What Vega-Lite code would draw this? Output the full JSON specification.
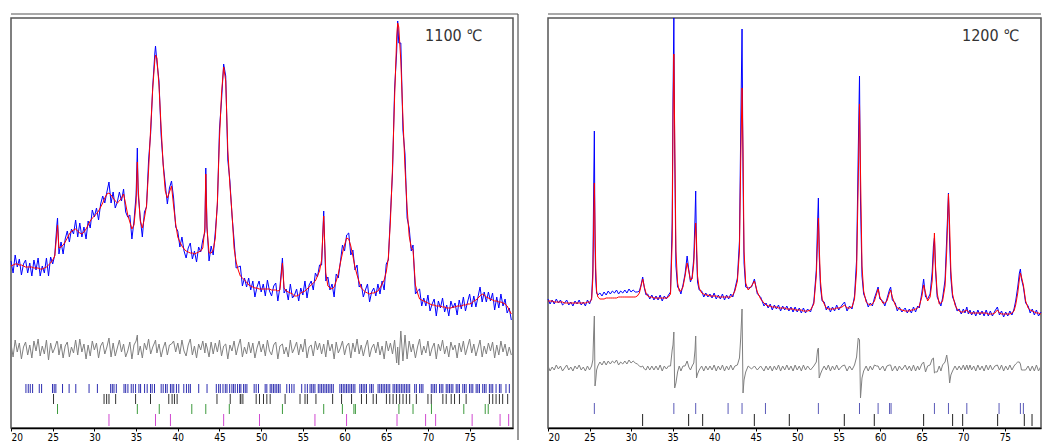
{
"$schema": "https://vega.github.io/schema/vega-lite/v6.json",
"background": "white",
"padding": {"left": 8, "top": 12, "right": 0, "bottom": 0},
"spacing": 35,
"bounds": "flush",
"config": {
  "view": {"stroke": "#555555", "strokeWidth": 1.5},
  "axis": {"grid": false, "title": null, "tickSize": 3, "tickColor": "#000000", "domainColor": "#000000", "domainWidth": 1.5, "labelFont": "DejaVu Sans Condensed, Liberation Sans Narrow, sans-serif", "labelFontSize": 10, "labelColor": "#000000", "labelPadding": 1}
},
"datasets": {
  "left": [
{"x":20,"calc":162,"obs":167,"diff":84},{"x":20.25,"calc":163,"obs":155,"diff":71},{"x":20.5,"calc":164,"obs":173,"diff":88},{"x":20.75,"calc":164,"obs":161,"diff":76},{"x":21,"calc":163,"obs":169,"diff":85},{"x":21.25,"calc":163,"obs":153,"diff":69},{"x":21.5,"calc":162,"obs":164,"diff":81},{"x":21.75,"calc":161,"obs":168,"diff":86},{"x":22,"calc":161,"obs":155,"diff":73},{"x":22.25,"calc":161,"obs":165,"diff":83},{"x":22.5,"calc":161,"obs":152,"diff":70},{"x":22.75,"calc":160,"obs":168,"diff":87},{"x":23,"calc":160,"obs":158,"diff":77},{"x":23.25,"calc":160,"obs":170,"diff":89},{"x":23.5,"calc":159,"obs":152,"diff":72},{"x":23.75,"calc":159,"obs":162,"diff":82},{"x":24,"calc":160,"obs":155,"diff":74},{"x":24.25,"calc":161,"obs":170,"diff":88},{"x":24.5,"calc":163,"obs":152,"diff":68},{"x":24.75,"calc":165,"obs":171,"diff":85},{"x":25,"calc":168,"obs":164,"diff":75},{"x":25.25,"calc":172,"obs":173,"diff":80},{"x":25.5,"calc":195,"obs":203,"diff":87},{"x":25.58,"calc":203,"obs":210,"diff":86},{"x":25.75,"calc":180,"obs":174,"diff":73},{"x":26,"calc":181,"obs":186,"diff":84},{"x":26.25,"calc":183,"obs":174,"diff":70},{"x":26.5,"calc":186,"obs":189,"diff":82},{"x":26.75,"calc":190,"obs":197,"diff":86},{"x":27,"calc":194,"obs":186,"diff":71},{"x":27.25,"calc":197,"obs":199,"diff":81},{"x":27.5,"calc":198,"obs":194,"diff":75},{"x":27.75,"calc":199,"obs":208,"diff":88},{"x":28,"calc":197,"obs":191,"diff":73},{"x":28.25,"calc":195,"obs":205,"diff":89},{"x":28.5,"calc":194,"obs":191,"diff":76},{"x":28.75,"calc":196,"obs":201,"diff":84},{"x":29,"calc":199,"obs":189,"diff":69},{"x":29.25,"calc":203,"obs":207,"diff":83},{"x":29.5,"calc":207,"obs":200,"diff":72},{"x":29.75,"calc":210,"obs":218,"diff":87},{"x":30,"calc":212,"obs":211,"diff":78},{"x":30.25,"calc":214,"obs":220,"diff":85},{"x":30.5,"calc":217,"obs":208,"diff":70},{"x":30.75,"calc":221,"obs":224,"diff":82},{"x":31,"calc":225,"obs":232,"diff":86},{"x":31.25,"calc":230,"obs":225,"diff":74},{"x":31.5,"calc":234,"obs":236,"diff":81},{"x":31.75,"calc":235,"obs":246,"diff":90},{"x":32,"calc":233,"obs":225,"diff":71},{"x":32.25,"calc":230,"obs":236,"diff":85},{"x":32.5,"calc":227,"obs":220,"diff":72},{"x":32.75,"calc":225,"obs":226,"diff":80},{"x":33,"calc":227,"obs":236,"diff":88},{"x":33.25,"calc":230,"obs":227,"diff":76},{"x":33.5,"calc":234,"obs":239,"diff":84},{"x":33.75,"calc":224,"obs":216,"diff":71},{"x":34,"calc":213,"obs":211,"diff":77},{"x":34.25,"calc":206,"obs":213,"diff":86},{"x":34.5,"calc":199,"obs":189,"diff":69},{"x":34.75,"calc":203,"obs":207,"diff":83},{"x":35,"calc":225,"obs":233,"diff":87},{"x":35.15,"calc":266,"obs":280,"diff":93},{"x":35.25,"calc":240,"obs":234,"diff":73},{"x":35.5,"calc":207,"obs":210,"diff":82},{"x":35.75,"calc":200,"obs":191,"diff":70},{"x":36,"calc":210,"obs":216,"diff":85},{"x":36.25,"calc":222,"obs":221,"diff":78},{"x":36.5,"calc":258,"obs":268,"diff":89},{"x":36.75,"calc":300,"obs":295,"diff":74},{"x":37,"calc":340,"obs":342,"diff":81},{"x":37.25,"calc":368,"obs":375,"diff":86},{"x":37.33,"calc":373,"obs":382,"diff":88},{"x":37.5,"calc":370,"obs":366,"diff":75},{"x":37.75,"calc":342,"obs":347,"diff":84},{"x":38,"calc":301,"obs":293,"diff":71},{"x":38.25,"calc":263,"obs":264,"diff":80},{"x":38.5,"calc":237,"obs":244,"diff":86},{"x":38.75,"calc":230,"obs":224,"diff":73},{"x":39,"calc":236,"obs":240,"diff":83},{"x":39.25,"calc":242,"obs":247,"diff":84},{"x":39.5,"calc":222,"obs":230,"diff":87},{"x":39.75,"calc":204,"obs":201,"diff":76},{"x":40,"calc":191,"obs":197,"diff":85},{"x":40.25,"calc":186,"obs":181,"diff":74},{"x":40.5,"calc":182,"obs":191,"diff":88},{"x":40.75,"calc":179,"obs":177,"diff":77},{"x":41,"calc":177,"obs":170,"diff":72},{"x":41.25,"calc":176,"obs":180,"diff":83},{"x":41.5,"calc":175,"obs":185,"diff":89},{"x":41.75,"calc":175,"obs":169,"diff":73},{"x":42,"calc":174,"obs":177,"diff":82},{"x":42.25,"calc":175,"obs":166,"diff":70},{"x":42.5,"calc":176,"obs":181,"diff":84},{"x":42.75,"calc":177,"obs":176,"diff":78},{"x":43,"calc":180,"obs":188,"diff":87},{"x":43.25,"calc":200,"obs":196,"diff":75},{"x":43.36,"calc":254,"obs":260,"diff":85},{"x":43.5,"calc":200,"obs":202,"diff":81},{"x":43.75,"calc":175,"obs":167,"diff":71},{"x":44,"calc":175,"obs":182,"diff":86},{"x":44.25,"calc":178,"obs":173,"diff":74},{"x":44.5,"calc":190,"obs":196,"diff":85},{"x":44.75,"calc":226,"obs":223,"diff":76},{"x":45,"calc":290,"obs":299,"diff":88},{"x":45.25,"calc":335,"obs":328,"diff":72},{"x":45.5,"calc":361,"obs":364,"diff":82},{"x":45.75,"calc":347,"obs":352,"diff":84},{"x":46,"calc":278,"obs":268,"diff":69},{"x":46.25,"calc":243,"obs":247,"diff":83},{"x":46.5,"calc":215,"obs":213,"diff":77},{"x":46.75,"calc":180,"obs":188,"diff":87},{"x":47,"calc":166,"obs":160,"diff":73},{"x":47.25,"calc":158,"obs":161,"diff":82},{"x":47.5,"calc":152,"obs":162,"diff":89},{"x":47.75,"calc":150,"obs":142,"diff":71},{"x":48,"calc":148,"obs":150,"diff":81},{"x":48.25,"calc":146,"obs":141,"diff":74},{"x":48.5,"calc":143,"obs":150,"diff":86},{"x":48.75,"calc":142,"obs":138,"diff":75},{"x":49,"calc":141,"obs":147,"diff":85},{"x":49.25,"calc":140,"obs":131,"diff":70},{"x":49.5,"calc":140,"obs":141,"diff":80},{"x":49.75,"calc":139,"obs":147,"diff":87},{"x":50,"calc":139,"obs":136,"diff":76},{"x":50.25,"calc":139,"obs":144,"diff":84},{"x":50.5,"calc":139,"obs":132,"diff":72},{"x":50.75,"calc":139,"obs":148,"diff":88},{"x":51,"calc":139,"obs":137,"diff":77},{"x":51.25,"calc":138,"obs":132,"diff":73},{"x":51.5,"calc":138,"obs":142,"diff":83},{"x":51.75,"calc":138,"obs":145,"diff":86},{"x":52,"calc":137,"obs":127,"diff":69},{"x":52.25,"calc":138,"obs":141,"diff":82},{"x":52.55,"calc":165,"obs":170,"diff":84},{"x":52.75,"calc":140,"obs":135,"diff":74},{"x":53,"calc":137,"obs":139,"diff":81},{"x":53.25,"calc":136,"obs":128,"diff":71},{"x":53.5,"calc":135,"obs":144,"diff":88},{"x":53.75,"calc":134,"obs":130,"diff":75},{"x":54,"calc":132,"obs":133,"diff":80},{"x":54.25,"calc":132,"obs":139,"diff":86},{"x":54.5,"calc":133,"obs":127,"diff":73},{"x":54.75,"calc":135,"obs":140,"diff":84},{"x":55,"calc":136,"obs":133,"diff":76},{"x":55.25,"calc":137,"obs":147,"diff":89},{"x":55.5,"calc":139,"obs":130,"diff":70},{"x":55.75,"calc":141,"obs":143,"diff":81},{"x":56,"calc":143,"obs":147,"diff":83},{"x":56.25,"calc":145,"obs":138,"diff":72},{"x":56.5,"calc":147,"obs":155,"diff":87},{"x":56.75,"calc":152,"obs":151,"diff":78},{"x":57,"calc":157,"obs":163,"diff":85},{"x":57.25,"calc":168,"obs":163,"diff":74},{"x":57.5,"calc":212,"obs":217,"diff":84},{"x":57.75,"calc":155,"obs":147,"diff":71},{"x":58,"calc":142,"obs":151,"diff":88},{"x":58.25,"calc":140,"obs":138,"diff":77},{"x":58.5,"calc":139,"obs":144,"diff":84},{"x":58.75,"calc":141,"obs":131,"diff":69},{"x":59,"calc":147,"obs":154,"diff":86},{"x":59.25,"calc":154,"obs":150,"diff":75},{"x":59.5,"calc":165,"obs":166,"diff":80},{"x":59.75,"calc":175,"obs":183,"diff":87},{"x":60,"calc":183,"obs":177,"diff":73},{"x":60.25,"calc":190,"obs":193,"diff":82},{"x":60.5,"calc":189,"obs":195,"diff":85},{"x":60.75,"calc":182,"obs":173,"diff":70},{"x":61,"calc":172,"obs":178,"diff":85},{"x":61.25,"calc":161,"obs":158,"diff":76},{"x":61.5,"calc":153,"obs":163,"diff":89},{"x":61.75,"calc":146,"obs":141,"diff":74},{"x":62,"calc":140,"obs":144,"diff":83},{"x":62.25,"calc":138,"obs":131,"diff":72},{"x":62.5,"calc":136,"obs":138,"diff":81},{"x":62.75,"calc":135,"obs":144,"diff":88},{"x":63,"calc":134,"obs":126,"diff":71},{"x":63.25,"calc":135,"obs":136,"diff":80},{"x":63.5,"calc":135,"obs":140,"diff":84},{"x":63.75,"calc":136,"obs":132,"diff":75},{"x":64,"calc":137,"obs":144,"diff":86},{"x":64.25,"calc":140,"obs":134,"diff":73},{"x":64.5,"calc":144,"obs":147,"diff":82},{"x":64.75,"calc":148,"obs":138,"diff":69},{"x":65,"calc":156,"obs":164,"diff":87},{"x":65.25,"calc":170,"obs":168,"diff":77},{"x":65.5,"calc":207,"obs":213,"diff":85},{"x":65.75,"calc":260,"obs":255,"diff":74},{"x":66,"calc":330,"obs":339,"diff":88},{"x":66.25,"calc":390,"obs":376,"diff":65},{"x":66.37,"calc":405,"obs":407,"diff":81},{"x":66.5,"calc":401,"obs":385,"diff":63},{"x":66.75,"calc":367,"obs":385,"diff":97},{"x":67,"calc":310,"obs":298,"diff":67},{"x":67.25,"calc":260,"obs":274,"diff":93},{"x":67.5,"calc":220,"obs":210,"diff":69},{"x":67.75,"calc":192,"obs":200,"diff":87},{"x":68,"calc":180,"obs":177,"diff":76},{"x":68.21,"calc":178,"obs":183,"diff":84},{"x":68.5,"calc":143,"obs":134,"diff":70},{"x":68.75,"calc":135,"obs":137,"diff":81},{"x":69,"calc":129,"obs":139,"diff":89},{"x":69.25,"calc":128,"obs":122,"diff":73},{"x":69.5,"calc":127,"obs":130,"diff":82},{"x":69.75,"calc":126,"obs":122,"diff":75},{"x":70,"calc":125,"obs":133,"diff":87},{"x":70.25,"calc":124,"obs":117,"diff":72},{"x":70.5,"calc":123,"obs":124,"diff":80},{"x":70.75,"calc":123,"obs":129,"diff":85},{"x":71,"calc":122,"obs":112,"diff":69},{"x":71.25,"calc":122,"obs":127,"diff":84},{"x":71.5,"calc":122,"obs":120,"diff":77},{"x":71.75,"calc":121,"obs":130,"diff":88},{"x":72,"calc":121,"obs":116,"diff":74},{"x":72.25,"calc":120,"obs":123,"diff":82},{"x":72.5,"calc":120,"obs":112,"diff":71},{"x":72.75,"calc":120,"obs":127,"diff":86},{"x":73,"calc":121,"obs":120,"diff":78},{"x":73.25,"calc":121,"obs":125,"diff":83},{"x":73.5,"calc":122,"obs":113,"diff":70},{"x":73.75,"calc":122,"obs":128,"diff":85},{"x":74,"calc":122,"obs":119,"diff":76},{"x":74.25,"calc":123,"obs":131,"diff":87},{"x":74.5,"calc":123,"obs":117,"diff":73},{"x":74.75,"calc":124,"obs":126,"diff":81},{"x":75,"calc":124,"obs":134,"diff":89},{"x":75.25,"calc":125,"obs":121,"diff":75},{"x":75.5,"calc":127,"obs":132,"diff":84},{"x":75.75,"calc":128,"obs":121,"diff":72},{"x":76,"calc":130,"obs":131,"diff":80},{"x":76.25,"calc":132,"obs":141,"diff":88},{"x":76.5,"calc":134,"obs":126,"diff":71},{"x":76.75,"calc":133,"obs":136,"diff":82},{"x":77,"calc":131,"obs":126,"diff":74},{"x":77.25,"calc":130,"obs":136,"diff":85},{"x":77.5,"calc":129,"obs":127,"diff":77},{"x":77.75,"calc":128,"obs":135,"diff":86},{"x":78,"calc":127,"obs":118,"diff":70},{"x":78.25,"calc":127,"obs":131,"diff":83},{"x":78.5,"calc":126,"obs":120,"diff":73},{"x":78.75,"calc":126,"obs":134,"diff":87},{"x":79,"calc":125,"obs":122,"diff":76},{"x":79.25,"calc":124,"obs":129,"diff":84},{"x":79.5,"calc":122,"obs":115,"diff":72},{"x":79.75,"calc":118,"obs":120,"diff":81},{"x":80,"calc":114,"obs":108,"diff":73}
  ],
  "right": [
{"x":20,"calc":127,"obs":129,"diff":62},{"x":20.25,"calc":127,"obs":124,"diff":57},{"x":20.5,"calc":127,"obs":128,"diff":61},{"x":20.75,"calc":126,"obs":124,"diff":58},{"x":21,"calc":126,"obs":129,"diff":63},{"x":21.25,"calc":126,"obs":125,"diff":59},{"x":21.5,"calc":126,"obs":128,"diff":62},{"x":21.75,"calc":126,"obs":123,"diff":57},{"x":22,"calc":125,"obs":125,"diff":60},{"x":22.25,"calc":125,"obs":128,"diff":63},{"x":22.5,"calc":125,"obs":123,"diff":58},{"x":22.75,"calc":125,"obs":126,"diff":61},{"x":23,"calc":125,"obs":122,"diff":57},{"x":23.25,"calc":125,"obs":127,"diff":62},{"x":23.5,"calc":125,"obs":124,"diff":59},{"x":23.75,"calc":125,"obs":128,"diff":63},{"x":24,"calc":125,"obs":123,"diff":58},{"x":24.25,"calc":125,"obs":126,"diff":61},{"x":24.5,"calc":125,"obs":122,"diff":57},{"x":24.75,"calc":126,"obs":128,"diff":62},{"x":25,"calc":126,"obs":124,"diff":58},{"x":25.25,"calc":128,"obs":130,"diff":62},{"x":25.4,"calc":150,"obs":158,"diff":68},{"x":25.5,"calc":205,"obs":240,"diff":95},{"x":25.58,"calc":245,"obs":297,"diff":112},{"x":25.66,"calc":200,"obs":182,"diff":42},{"x":25.75,"calc":160,"obs":148,"diff":48},{"x":25.85,"calc":137,"obs":135,"diff":58},{"x":26,"calc":131,"obs":133,"diff":62},{"x":26.25,"calc":129,"obs":135,"diff":66},{"x":26.5,"calc":129,"obs":132,"diff":63},{"x":26.75,"calc":129,"obs":136,"diff":67},{"x":27,"calc":130,"obs":133,"diff":63},{"x":27.25,"calc":130,"obs":137,"diff":67},{"x":27.5,"calc":130,"obs":134,"diff":64},{"x":27.75,"calc":130,"obs":137,"diff":67},{"x":28,"calc":130,"obs":135,"diff":65},{"x":28.25,"calc":130,"obs":138,"diff":68},{"x":28.5,"calc":131,"obs":134,"diff":63},{"x":28.75,"calc":131,"obs":137,"diff":66},{"x":29,"calc":131,"obs":135,"diff":64},{"x":29.25,"calc":131,"obs":138,"diff":67},{"x":29.5,"calc":131,"obs":135,"diff":64},{"x":29.75,"calc":131,"obs":139,"diff":68},{"x":30,"calc":131,"obs":136,"diff":65},{"x":30.25,"calc":131,"obs":138,"diff":67},{"x":30.5,"calc":131,"obs":136,"diff":65},{"x":30.75,"calc":132,"obs":136,"diff":64},{"x":31,"calc":135,"obs":137,"diff":62},{"x":31.2,"calc":142,"obs":143,"diff":61},{"x":31.4,"calc":149,"obs":151,"diff":62},{"x":31.6,"calc":141,"obs":140,"diff":59},{"x":31.8,"calc":135,"obs":133,"diff":58},{"x":32,"calc":132,"obs":134,"diff":62},{"x":32.25,"calc":131,"obs":129,"diff":58},{"x":32.5,"calc":131,"obs":133,"diff":62},{"x":32.75,"calc":130,"obs":128,"diff":58},{"x":33,"calc":130,"obs":132,"diff":62},{"x":33.25,"calc":130,"obs":128,"diff":58},{"x":33.5,"calc":130,"obs":133,"diff":63},{"x":33.75,"calc":130,"obs":127,"diff":57},{"x":34,"calc":130,"obs":132,"diff":62},{"x":34.25,"calc":130,"obs":129,"diff":59},{"x":34.5,"calc":131,"obs":133,"diff":62},{"x":34.75,"calc":134,"obs":136,"diff":62},{"x":34.95,"calc":187,"obs":205,"diff":78},{"x":35.05,"calc":307,"obs":330,"diff":83},{"x":35.15,"calc":374,"obs":410,"diff":96},{"x":35.25,"calc":297,"obs":277,"diff":40},{"x":35.4,"calc":177,"obs":162,"diff":45},{"x":35.6,"calc":145,"obs":141,"diff":56},{"x":35.8,"calc":137,"obs":139,"diff":62},{"x":36,"calc":137,"obs":134,"diff":57},{"x":36.25,"calc":141,"obs":143,"diff":62},{"x":36.5,"calc":152,"obs":154,"diff":62},{"x":36.75,"calc":165,"obs":172,"diff":67},{"x":36.95,"calc":157,"obs":158,"diff":61},{"x":37.15,"calc":148,"obs":146,"diff":58},{"x":37.35,"calc":149,"obs":151,"diff":62},{"x":37.55,"calc":165,"obs":170,"diff":65},{"x":37.7,"calc":192,"obs":210,"diff":78},{"x":37.78,"calc":205,"obs":237,"diff":92},{"x":37.88,"calc":187,"obs":177,"diff":50},{"x":38,"calc":152,"obs":146,"diff":54},{"x":38.2,"calc":140,"obs":138,"diff":58},{"x":38.5,"calc":135,"obs":137,"diff":62},{"x":38.75,"calc":134,"obs":131,"diff":57},{"x":39,"calc":133,"obs":135,"diff":62},{"x":39.25,"calc":133,"obs":131,"diff":58},{"x":39.5,"calc":132,"obs":134,"diff":62},{"x":39.75,"calc":132,"obs":130,"diff":58},{"x":40,"calc":132,"obs":135,"diff":63},{"x":40.25,"calc":132,"obs":129,"diff":57},{"x":40.5,"calc":131,"obs":133,"diff":62},{"x":40.75,"calc":131,"obs":129,"diff":58},{"x":41,"calc":131,"obs":134,"diff":63},{"x":41.25,"calc":131,"obs":128,"diff":57},{"x":41.5,"calc":131,"obs":133,"diff":62},{"x":41.75,"calc":131,"obs":129,"diff":58},{"x":42,"calc":131,"obs":134,"diff":63},{"x":42.25,"calc":133,"obs":131,"diff":58},{"x":42.5,"calc":137,"obs":139,"diff":62},{"x":42.8,"calc":147,"obs":150,"diff":63},{"x":43.05,"calc":177,"obs":187,"diff":70},{"x":43.2,"calc":267,"obs":297,"diff":90},{"x":43.36,"calc":340,"obs":399,"diff":119},{"x":43.48,"calc":277,"obs":252,"diff":35},{"x":43.6,"calc":177,"obs":165,"diff":48},{"x":43.8,"calc":145,"obs":141,"diff":56},{"x":44.1,"calc":138,"obs":140,"diff":62},{"x":44.5,"calc":142,"obs":141,"diff":59},{"x":44.85,"calc":147,"obs":149,"diff":62},{"x":45.2,"calc":136,"obs":134,"diff":58},{"x":45.6,"calc":129,"obs":131,"diff":62},{"x":46,"calc":125,"obs":122,"diff":57},{"x":46.25,"calc":123,"obs":125,"diff":62},{"x":46.5,"calc":122,"obs":120,"diff":58},{"x":46.75,"calc":122,"obs":124,"diff":62},{"x":47,"calc":121,"obs":118,"diff":57},{"x":47.25,"calc":121,"obs":123,"diff":62},{"x":47.5,"calc":121,"obs":119,"diff":58},{"x":47.75,"calc":120,"obs":123,"diff":63},{"x":48,"calc":120,"obs":117,"diff":57},{"x":48.25,"calc":120,"obs":122,"diff":62},{"x":48.5,"calc":120,"obs":118,"diff":58},{"x":48.75,"calc":119,"obs":122,"diff":63},{"x":49,"calc":119,"obs":117,"diff":58},{"x":49.25,"calc":119,"obs":121,"diff":62},{"x":49.5,"calc":119,"obs":116,"diff":57},{"x":49.75,"calc":118,"obs":121,"diff":63},{"x":50,"calc":118,"obs":116,"diff":58},{"x":50.25,"calc":118,"obs":120,"diff":62},{"x":50.5,"calc":118,"obs":115,"diff":57},{"x":50.75,"calc":117,"obs":120,"diff":63},{"x":51,"calc":117,"obs":115,"diff":58},{"x":51.25,"calc":117,"obs":119,"diff":62},{"x":51.6,"calc":118,"obs":116,"diff":58},{"x":52,"calc":124,"obs":126,"diff":62},{"x":52.3,"calc":152,"obs":158,"diff":66},{"x":52.45,"calc":187,"obs":205,"diff":78},{"x":52.55,"calc":210,"obs":230,"diff":80},{"x":52.65,"calc":182,"obs":172,"diff":50},{"x":52.8,"calc":147,"obs":141,"diff":54},{"x":53,"calc":129,"obs":127,"diff":58},{"x":53.25,"calc":124,"obs":126,"diff":62},{"x":53.5,"calc":120,"obs":118,"diff":58},{"x":53.75,"calc":119,"obs":122,"diff":63},{"x":54,"calc":119,"obs":116,"diff":57},{"x":54.25,"calc":119,"obs":121,"diff":62},{"x":54.5,"calc":119,"obs":117,"diff":58},{"x":54.75,"calc":120,"obs":123,"diff":63},{"x":55,"calc":120,"obs":118,"diff":58},{"x":55.4,"calc":121,"obs":123,"diff":62},{"x":55.7,"calc":123,"obs":126,"diff":63},{"x":56,"calc":120,"obs":117,"diff":57},{"x":56.3,"calc":120,"obs":122,"diff":62},{"x":56.6,"calc":121,"obs":119,"diff":58},{"x":56.9,"calc":129,"obs":132,"diff":63},{"x":57.15,"calc":157,"obs":168,"diff":71},{"x":57.35,"calc":247,"obs":277,"diff":90},{"x":57.5,"calc":324,"obs":352,"diff":88},{"x":57.62,"calc":257,"obs":227,"diff":30},{"x":57.8,"calc":162,"obs":152,"diff":50},{"x":58,"calc":137,"obs":134,"diff":57},{"x":58.3,"calc":126,"obs":128,"diff":62},{"x":58.55,"calc":124,"obs":121,"diff":57},{"x":58.8,"calc":123,"obs":125,"diff":62},{"x":59.05,"calc":124,"obs":122,"diff":58},{"x":59.3,"calc":127,"obs":130,"diff":63},{"x":59.55,"calc":134,"obs":136,"diff":62},{"x":59.74,"calc":139,"obs":141,"diff":62},{"x":59.95,"calc":131,"obs":129,"diff":58},{"x":60.3,"calc":125,"obs":127,"diff":62},{"x":60.55,"calc":125,"obs":122,"diff":57},{"x":60.8,"calc":127,"obs":129,"diff":62},{"x":61.1,"calc":135,"obs":138,"diff":63},{"x":61.25,"calc":138,"obs":141,"diff":63},{"x":61.45,"calc":131,"obs":128,"diff":57},{"x":61.8,"calc":123,"obs":125,"diff":62},{"x":62.05,"calc":120,"obs":117,"diff":57},{"x":62.3,"calc":119,"obs":121,"diff":62},{"x":62.6,"calc":118,"obs":116,"diff":58},{"x":63,"calc":117,"obs":120,"diff":63},{"x":63.25,"calc":117,"obs":115,"diff":58},{"x":63.5,"calc":117,"obs":119,"diff":62},{"x":63.75,"calc":118,"obs":115,"diff":57},{"x":64,"calc":118,"obs":121,"diff":63},{"x":64.25,"calc":119,"obs":116,"diff":57},{"x":64.5,"calc":120,"obs":122,"diff":62},{"x":64.7,"calc":122,"obs":120,"diff":58},{"x":65,"calc":131,"obs":135,"diff":64},{"x":65.22,"calc":143,"obs":149,"diff":66},{"x":65.45,"calc":135,"obs":131,"diff":56},{"x":65.7,"calc":127,"obs":129,"diff":62},{"x":66,"calc":131,"obs":134,"diff":63},{"x":66.25,"calc":147,"obs":156,"diff":69},{"x":66.4,"calc":172,"obs":182,"diff":70},{"x":66.52,"calc":195,"obs":190,"diff":55},{"x":66.65,"calc":162,"obs":158,"diff":56},{"x":66.85,"calc":135,"obs":131,"diff":56},{"x":67.1,"calc":124,"obs":126,"diff":62},{"x":67.3,"calc":125,"obs":122,"diff":57},{"x":67.5,"calc":127,"obs":130,"diff":63},{"x":67.8,"calc":142,"obs":148,"diff":66},{"x":68,"calc":177,"obs":190,"diff":73},{"x":68.21,"calc":234,"obs":235,"diff":61},{"x":68.35,"calc":202,"obs":187,"diff":45},{"x":68.5,"calc":157,"obs":150,"diff":53},{"x":68.7,"calc":134,"obs":131,"diff":57},{"x":69,"calc":123,"obs":125,"diff":62},{"x":69.25,"calc":119,"obs":117,"diff":58},{"x":69.5,"calc":117,"obs":119,"diff":62},{"x":69.75,"calc":116,"obs":114,"diff":58},{"x":70,"calc":116,"obs":119,"diff":63},{"x":70.2,"calc":117,"obs":115,"diff":58},{"x":70.42,"calc":118,"obs":121,"diff":63},{"x":70.6,"calc":116,"obs":114,"diff":58},{"x":70.8,"calc":115,"obs":118,"diff":63},{"x":71,"calc":115,"obs":113,"diff":58},{"x":71.25,"calc":115,"obs":117,"diff":62},{"x":71.5,"calc":115,"obs":112,"diff":57},{"x":71.75,"calc":115,"obs":118,"diff":63},{"x":72,"calc":115,"obs":113,"diff":58},{"x":72.25,"calc":115,"obs":117,"diff":62},{"x":72.5,"calc":115,"obs":112,"diff":57},{"x":72.75,"calc":115,"obs":118,"diff":63},{"x":73,"calc":114,"obs":112,"diff":58},{"x":73.25,"calc":114,"obs":117,"diff":63},{"x":73.5,"calc":114,"obs":112,"diff":58},{"x":73.8,"calc":115,"obs":117,"diff":62},{"x":74.1,"calc":118,"obs":121,"diff":63},{"x":74.35,"calc":115,"obs":113,"diff":58},{"x":74.6,"calc":114,"obs":117,"diff":63},{"x":74.85,"calc":114,"obs":111,"diff":57},{"x":75.1,"calc":114,"obs":116,"diff":62},{"x":75.35,"calc":114,"obs":112,"diff":58},{"x":75.6,"calc":114,"obs":117,"diff":63},{"x":75.85,"calc":115,"obs":113,"diff":58},{"x":76.1,"calc":117,"obs":119,"diff":62},{"x":76.3,"calc":123,"obs":127,"diff":64},{"x":76.55,"calc":135,"obs":141,"diff":66},{"x":76.75,"calc":149,"obs":155,"diff":66},{"x":76.87,"calc":155,"obs":159,"diff":64},{"x":77,"calc":151,"obs":149,"diff":58},{"x":77.23,"calc":143,"obs":141,"diff":58},{"x":77.5,"calc":127,"obs":125,"diff":58},{"x":77.8,"calc":120,"obs":122,"diff":62},{"x":78.05,"calc":118,"obs":115,"diff":57},{"x":78.3,"calc":117,"obs":119,"diff":62},{"x":78.55,"calc":116,"obs":113,"diff":57},{"x":78.8,"calc":115,"obs":118,"diff":63},{"x":79.05,"calc":115,"obs":112,"diff":57},{"x":79.35,"calc":114,"obs":116,"diff":62}
  ],
  "leftTicks": [
{"x":21.79,"p":"a"},{"x":22.07,"p":"a"},{"x":22.31,"p":"a"},{"x":22.59,"p":"a"},{"x":23.39,"p":"a"},{"x":23.67,"p":"a"},{"x":24.98,"p":"a"},{"x":25.18,"p":"a"},{"x":25.38,"p":"a"},{"x":26.18,"p":"a"},{"x":26.97,"p":"a"},{"x":27.77,"p":"a"},{"x":29.36,"p":"a"},{"x":30.36,"p":"a"},{"x":31.95,"p":"a"},{"x":32.15,"p":"a"},{"x":32.35,"p":"a"},{"x":32.63,"p":"a"},{"x":33.55,"p":"a"},{"x":33.75,"p":"a"},{"x":34.02,"p":"a"},{"x":34.42,"p":"a"},{"x":34.66,"p":"a"},{"x":34.94,"p":"a"},{"x":35.34,"p":"a"},{"x":35.54,"p":"a"},{"x":36.02,"p":"a"},{"x":36.33,"p":"a"},{"x":36.73,"p":"a"},{"x":36.93,"p":"a"},{"x":37.21,"p":"a"},{"x":38.01,"p":"a"},{"x":38.25,"p":"a"},{"x":38.53,"p":"a"},{"x":38.73,"p":"a"},{"x":39.12,"p":"a"},{"x":39.32,"p":"a"},{"x":39.52,"p":"a"},{"x":39.84,"p":"a"},{"x":40.12,"p":"a"},{"x":40.72,"p":"a"},{"x":41.04,"p":"a"},{"x":41.31,"p":"a"},{"x":41.51,"p":"a"},{"x":42.51,"p":"a"},{"x":43.51,"p":"a"},{"x":44.62,"p":"a"},{"x":44.9,"p":"a"},{"x":45.1,"p":"a"},{"x":45.42,"p":"a"},{"x":45.7,"p":"a"},{"x":45.9,"p":"a"},{"x":46.22,"p":"a"},{"x":46.49,"p":"a"},{"x":46.69,"p":"a"},{"x":46.89,"p":"a"},{"x":47.17,"p":"a"},{"x":47.41,"p":"a"},{"x":47.57,"p":"a"},{"x":47.89,"p":"a"},{"x":48.09,"p":"a"},{"x":48.29,"p":"a"},{"x":49.16,"p":"a"},{"x":49.4,"p":"a"},{"x":49.68,"p":"a"},{"x":50.48,"p":"a"},{"x":50.68,"p":"a"},{"x":51.08,"p":"a"},{"x":51.27,"p":"a"},{"x":51.47,"p":"a"},{"x":51.67,"p":"a"},{"x":51.87,"p":"a"},{"x":52.07,"p":"a"},{"x":52.27,"p":"a"},{"x":53.07,"p":"a"},{"x":53.39,"p":"a"},{"x":53.67,"p":"a"},{"x":53.94,"p":"a"},{"x":54.86,"p":"a"},{"x":55.26,"p":"a"},{"x":55.54,"p":"a"},{"x":55.86,"p":"a"},{"x":56.06,"p":"a"},{"x":56.25,"p":"a"},{"x":56.45,"p":"a"},{"x":56.85,"p":"a"},{"x":57.05,"p":"a"},{"x":57.25,"p":"a"},{"x":57.45,"p":"a"},{"x":57.65,"p":"a"},{"x":57.85,"p":"a"},{"x":58.05,"p":"a"},{"x":58.25,"p":"a"},{"x":58.45,"p":"a"},{"x":58.65,"p":"a"},{"x":59.44,"p":"a"},{"x":59.64,"p":"a"},{"x":59.84,"p":"a"},{"x":60.04,"p":"a"},{"x":60.24,"p":"a"},{"x":60.44,"p":"a"},{"x":60.64,"p":"a"},{"x":60.84,"p":"a"},{"x":61.04,"p":"a"},{"x":61.24,"p":"a"},{"x":61.83,"p":"a"},{"x":62.03,"p":"a"},{"x":62.23,"p":"a"},{"x":62.43,"p":"a"},{"x":62.63,"p":"a"},{"x":63.03,"p":"a"},{"x":63.23,"p":"a"},{"x":63.43,"p":"a"},{"x":64.02,"p":"a"},{"x":64.22,"p":"a"},{"x":64.42,"p":"a"},{"x":64.62,"p":"a"},{"x":64.82,"p":"a"},{"x":65.02,"p":"a"},{"x":65.22,"p":"a"},{"x":65.42,"p":"a"},{"x":65.82,"p":"a"},{"x":66.02,"p":"a"},{"x":66.22,"p":"a"},{"x":66.41,"p":"a"},{"x":66.61,"p":"a"},{"x":66.81,"p":"a"},{"x":67.01,"p":"a"},{"x":67.21,"p":"a"},{"x":67.41,"p":"a"},{"x":67.61,"p":"a"},{"x":67.81,"p":"a"},{"x":68.41,"p":"a"},{"x":68.61,"p":"a"},{"x":69.0,"p":"a"},{"x":69.2,"p":"a"},{"x":69.4,"p":"a"},{"x":70.4,"p":"a"},{"x":70.6,"p":"a"},{"x":70.8,"p":"a"},{"x":71.0,"p":"a"},{"x":71.39,"p":"a"},{"x":71.59,"p":"a"},{"x":71.79,"p":"a"},{"x":72.19,"p":"a"},{"x":72.39,"p":"a"},{"x":72.59,"p":"a"},{"x":72.79,"p":"a"},{"x":72.99,"p":"a"},{"x":73.39,"p":"a"},{"x":73.59,"p":"a"},{"x":73.78,"p":"a"},{"x":74.18,"p":"a"},{"x":74.38,"p":"a"},{"x":74.58,"p":"a"},{"x":74.98,"p":"a"},{"x":75.18,"p":"a"},{"x":75.38,"p":"a"},{"x":75.78,"p":"a"},{"x":75.98,"p":"a"},{"x":76.18,"p":"a"},{"x":76.57,"p":"a"},{"x":76.77,"p":"a"},{"x":76.97,"p":"a"},{"x":77.37,"p":"a"},{"x":77.57,"p":"a"},{"x":77.77,"p":"a"},{"x":78.17,"p":"a"},{"x":78.57,"p":"a"},{"x":78.76,"p":"a"},{"x":79.36,"p":"a"},{"x":79.76,"p":"a"},
{"x":25.1,"p":"b"},{"x":31.16,"p":"b"},{"x":31.47,"p":"b"},{"x":31.75,"p":"b"},{"x":32.55,"p":"b"},{"x":34.94,"p":"b"},{"x":36.73,"p":"b"},{"x":38.92,"p":"b"},{"x":39.32,"p":"b"},{"x":39.6,"p":"b"},{"x":39.92,"p":"b"},{"x":44.7,"p":"b"},{"x":46.29,"p":"b"},{"x":47.49,"p":"b"},{"x":47.57,"p":"b"},{"x":47.81,"p":"b"},{"x":49.4,"p":"b"},{"x":49.8,"p":"b"},{"x":50.28,"p":"b"},{"x":50.68,"p":"b"},{"x":51.08,"p":"b"},{"x":52.87,"p":"b"},{"x":54.66,"p":"b"},{"x":55.26,"p":"b"},{"x":55.54,"p":"b"},{"x":56.57,"p":"b"},{"x":58.57,"p":"b"},{"x":59.64,"p":"b"},{"x":60.84,"p":"b"},{"x":62.03,"p":"b"},{"x":62.63,"p":"b"},{"x":63.43,"p":"b"},{"x":63.82,"p":"b"},{"x":65.02,"p":"b"},{"x":65.42,"p":"b"},{"x":65.82,"p":"b"},{"x":66.22,"p":"b"},{"x":66.61,"p":"b"},{"x":67.01,"p":"b"},{"x":67.41,"p":"b"},{"x":67.81,"p":"b"},{"x":68.61,"p":"b"},{"x":70.0,"p":"b"},{"x":70.4,"p":"b"},{"x":71.79,"p":"b"},{"x":72.19,"p":"b"},{"x":72.79,"p":"b"},{"x":73.19,"p":"b"},{"x":73.78,"p":"b"},{"x":74.58,"p":"b"},{"x":77.37,"p":"b"},{"x":77.77,"p":"b"},{"x":78.17,"p":"b"},{"x":78.57,"p":"b"},{"x":78.96,"p":"b"},{"x":79.56,"p":"b"},
{"x":25.58,"p":"c"},{"x":35.15,"p":"c"},{"x":37.78,"p":"c"},{"x":41.68,"p":"c"},{"x":43.36,"p":"c"},{"x":46.18,"p":"c"},{"x":52.55,"p":"c"},{"x":57.5,"p":"c"},{"x":59.74,"p":"c"},{"x":61.12,"p":"c"},{"x":61.3,"p":"c"},{"x":66.52,"p":"c"},{"x":68.21,"p":"c"},{"x":70.42,"p":"c"},{"x":74.3,"p":"c"},{"x":76.87,"p":"c"},{"x":77.23,"p":"c"},
{"x":31.75,"p":"d"},{"x":37.33,"p":"d"},{"x":39.12,"p":"d"},{"x":45.5,"p":"d"},{"x":49.8,"p":"d"},{"x":56.45,"p":"d"},{"x":60.24,"p":"d"},{"x":66.29,"p":"d"},{"x":69.72,"p":"d"},{"x":70.92,"p":"d"},{"x":75.3,"p":"d"},{"x":78.65,"p":"d"},{"x":79.68,"p":"d"}
  ],
  "rightTicks": [
{"x":25.58,"p":"a"},{"x":35.15,"p":"a"},{"x":37.78,"p":"a"},{"x":41.68,"p":"a"},{"x":43.36,"p":"a"},{"x":46.18,"p":"a"},{"x":52.55,"p":"a"},{"x":57.5,"p":"a"},{"x":59.74,"p":"a"},{"x":61.12,"p":"a"},{"x":61.3,"p":"a"},{"x":66.52,"p":"a"},{"x":68.21,"p":"a"},{"x":70.42,"p":"a"},{"x":74.3,"p":"a"},{"x":76.87,"p":"a"},{"x":77.23,"p":"a"},
{"x":31.39,"p":"b"},{"x":36.93,"p":"b"},{"x":38.62,"p":"b"},{"x":44.84,"p":"b"},{"x":49.05,"p":"b"},{"x":55.67,"p":"b"},{"x":59.28,"p":"b"},{"x":65.22,"p":"b"},{"x":68.71,"p":"b"},{"x":69.92,"p":"b"},{"x":74.13,"p":"b"},{"x":77.34,"p":"b"},{"x":78.27,"p":"b"}
  ],
  "one": [{"k": 1}]
},
"hconcat": [
  {
    "width": 502, "height": 410,
    "layer": [
      {"data": {"name": "left"}, "mark": {"type": "line", "color": "#0000ff", "strokeWidth": 1},
       "encoding": {"x": {"field": "x", "type": "quantitative", "scale": {"domain": [20, 80.2], "nice": false, "zero": false}, "axis": {"values": [20, 25, 30, 35, 40, 45, 50, 55, 60, 65, 70, 75], "labelFlush": true}},
                    "y": {"field": "obs", "type": "quantitative", "scale": {"domain": [0, 410], "nice": false, "zero": false}, "axis": null}}},
      {"data": {"name": "left"}, "mark": {"type": "line", "color": "#ff0000", "strokeWidth": 1},
       "encoding": {"x": {"field": "x", "type": "quantitative"}, "y": {"field": "calc", "type": "quantitative", "axis": null}}},
      {"data": {"name": "left"}, "mark": {"type": "line", "color": "#808080", "strokeWidth": 1},
       "encoding": {"x": {"field": "x", "type": "quantitative"}, "y": {"field": "diff", "type": "quantitative", "axis": null}}},
      {"data": {"name": "leftTicks"}, "transform": [{"filter": "datum.p === 'a'"}], "mark": {"type": "rule", "color": "#2e2eb0", "strokeWidth": 1},
       "encoding": {"x": {"field": "x", "type": "quantitative"}, "y": {"datum": 35}, "y2": {"datum": 44}}},
      {"data": {"name": "leftTicks"}, "transform": [{"filter": "datum.p === 'b'"}], "mark": {"type": "rule", "color": "#333333", "strokeWidth": 1},
       "encoding": {"x": {"field": "x", "type": "quantitative"}, "y": {"datum": 24}, "y2": {"datum": 34}}},
      {"data": {"name": "leftTicks"}, "transform": [{"filter": "datum.p === 'c'"}], "mark": {"type": "rule", "color": "#3c9a3c", "strokeWidth": 1},
       "encoding": {"x": {"field": "x", "type": "quantitative"}, "y": {"datum": 14}, "y2": {"datum": 24}}},
      {"data": {"name": "leftTicks"}, "transform": [{"filter": "datum.p === 'd'"}], "mark": {"type": "rule", "color": "#d048d0", "strokeWidth": 1},
       "encoding": {"x": {"field": "x", "type": "quantitative"}, "y": {"datum": 2}, "y2": {"datum": 14}}},
      {"data": {"name": "one"}, "mark": {"type": "rule", "color": "#555555", "strokeWidth": 1.2},
       "encoding": {"x": {"datum": 20}, "x2": {"datum": 80.8}, "y": {"datum": 414}}},
      {"data": {"name": "one"}, "mark": {"type": "rule", "color": "#555555", "strokeWidth": 1.2},
       "encoding": {"x": {"datum": 80.8}, "y": {"datum": 414}, "y2": {"datum": -12}}},
      {"data": {"name": "one"}, "mark": {"type": "text", "font": "DejaVu Sans Condensed, Liberation Sans Narrow, sans-serif", "fontSize": 16, "color": "#333333", "baseline": "middle", "align": "center"},
       "encoding": {"x": {"datum": 73.1}, "y": {"datum": 392}, "text": {"value": "1100 ℃"}}}
    ]
  },
  {
    "width": 493, "height": 410,
    "layer": [
      {"data": {"name": "right"}, "mark": {"type": "line", "color": "#0000ff", "strokeWidth": 1},
       "encoding": {"x": {"field": "x", "type": "quantitative", "scale": {"domain": [20, 79.35], "nice": false, "zero": false}, "axis": {"values": [20, 25, 30, 35, 40, 45, 50, 55, 60, 65, 70, 75]}},
                    "y": {"field": "obs", "type": "quantitative", "scale": {"domain": [0, 410], "nice": false, "zero": false}, "axis": null}}},
      {"data": {"name": "right"}, "mark": {"type": "line", "color": "#ff0000", "strokeWidth": 1},
       "encoding": {"x": {"field": "x", "type": "quantitative"}, "y": {"field": "calc", "type": "quantitative", "axis": null}}},
      {"data": {"name": "right"}, "mark": {"type": "line", "color": "#808080", "strokeWidth": 1},
       "encoding": {"x": {"field": "x", "type": "quantitative"}, "y": {"field": "diff", "type": "quantitative", "axis": null}}},
      {"data": {"name": "rightTicks"}, "transform": [{"filter": "datum.p === 'a'"}], "mark": {"type": "rule", "color": "#5a5ab8", "strokeWidth": 1},
       "encoding": {"x": {"field": "x", "type": "quantitative"}, "y": {"datum": 14}, "y2": {"datum": 25}}},
      {"data": {"name": "rightTicks"}, "transform": [{"filter": "datum.p === 'b'"}], "mark": {"type": "rule", "color": "#222222", "strokeWidth": 1},
       "encoding": {"x": {"field": "x", "type": "quantitative"}, "y": {"datum": 2}, "y2": {"datum": 14}}},
      {"data": {"name": "one"}, "mark": {"type": "rule", "color": "#555555", "strokeWidth": 1.2},
       "encoding": {"x": {"datum": 20}, "x2": {"datum": 79.35}, "y": {"datum": 414}}},
      {"data": {"name": "one"}, "mark": {"type": "text", "font": "DejaVu Sans Condensed, Liberation Sans Narrow, sans-serif", "fontSize": 16, "color": "#333333", "baseline": "middle", "align": "center"},
       "encoding": {"x": {"datum": 73.3}, "y": {"datum": 392}, "text": {"value": "1200 ℃"}}}
    ]
  }
]
}
